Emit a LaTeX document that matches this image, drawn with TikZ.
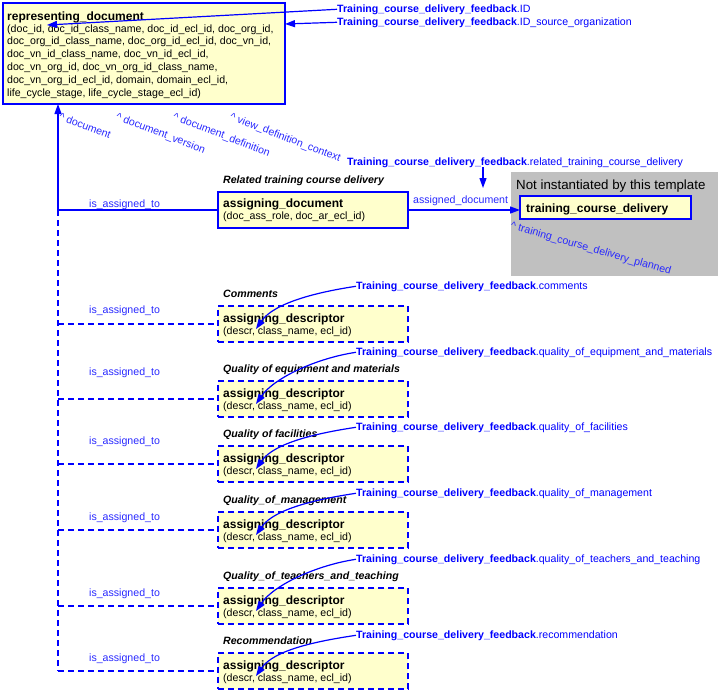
\documentclass[tikz,border=0pt]{standalone}
\usepackage{fontspec}
\setmainfont{Liberation Sans}
\usetikzlibrary{arrows.meta}
\definecolor{bblue}{RGB}{0,0,255}
\definecolor{lblue}{RGB}{40,40,255}
\definecolor{boxfill}{RGB}{255,255,204}
\definecolor{grayfill}{RGB}{192,192,192}
\newcommand\fTtl{\fontsize{12}{14}\selectfont\bfseries}
\newcommand\fAttr{\fontsize{10.6}{12.8}\selectfont}
\newcommand\fLab{\fontsize{10.6}{12.8}\selectfont}
\newcommand\fBig{\fontsize{13.3}{15}\selectfont}
\begin{document}
\begin{tikzpicture}[x=1pt,y=-1pt,
  cls/.style={draw=bblue, line width=1.6pt, fill=boxfill, anchor=north west, inner sep=0pt, outer sep=0pt},
  dcls/.style={cls, dash pattern=on 6pt off 4pt},
  gbox/.style={fill=grayfill, anchor=north west, inner sep=0pt, outer sep=0pt},
  txt/.style={inner sep=0pt, anchor=base west},
  lab/.style={txt, font=\fLab, text=bblue},
  rlab/.style={inner sep=0pt, anchor=north west, font=\fLab, text=lblue},
  conn/.style={draw=bblue, line width=1.2pt},
  dconn/.style={draw=bblue, line width=1.5pt, dash pattern=on 6pt off 4pt},
  arr/.style={-{Triangle[length=10pt,width=7pt]}}
]
\useasboundingbox (0,0) rectangle (720,691);

% representing_document
\node[cls, minimum width=282pt, minimum height=101pt] (rd) at (3,3) {};
\node[txt, font=\fTtl] (rdt) at (7,20) {representing\_document};
\foreach \ln [count=\k] in {
  {(doc\_id, doc\_id\_class\_name, doc\_id\_ecl\_id, doc\_org\_id,},
  {doc\_org\_id\_class\_name, doc\_org\_id\_ecl\_id, doc\_vn\_id,},
  {doc\_vn\_id\_class\_name, doc\_vn\_id\_ecl\_id,},
  {doc\_vn\_org\_id, doc\_vn\_org\_id\_class\_name,},
  {doc\_vn\_org\_id\_ecl\_id, domain, domain\_ecl\_id,},
  {life\_cycle\_stage, life\_cycle\_stage\_ecl\_id)}}
  {\node[txt, font=\fAttr] (rda\k) at (7,{32+12.8*(\k-1)}) {\ln};}

% top labels
\node[lab] (id) at (337,12) {\textbf{Training\_course\_delivery\_feedback}.ID};
\node[lab] (ids) at (337,25) {\textbf{Training\_course\_delivery\_feedback}.ID\_source\_organization};
\coordinate (idt) at (47,25);
\coordinate (idst) at (285,24);
\draw[conn, arr] (id.west) -- (idt);
\draw[conn, arr] (ids.west) -- (idst);

% rotated labels
\node[rlab, rotate=-21] (r1) at (61,112) {\textasciicircum{} document};
\node[rlab, rotate=-21] (r2) at (118,112) {\textasciicircum{} document\_version};
\node[rlab, rotate=-21] (r3) at (175,112) {\textasciicircum{} document\_definition};
\node[rlab, rotate=-21] (r4) at (232,112) {\textasciicircum{} view\_definition\_context};

% not instantiated area
\node[gbox, minimum width=207pt, minimum height=104pt] (ni) at (511,172) {};
\node[txt, font=\fBig] (nit) at (516,189) {Not instantiated by this template};
\node[cls, minimum width=171pt, minimum height=23pt] (tcd) at (520,196) {};
\node[txt, font=\fTtl] (tcdt) at (526,212) {training\_course\_delivery};
\node[rlab, rotate=-16] (r5) at (512,221) {\textasciicircum{} training\_course\_delivery\_planned};

% assigning_document
\node[txt, font={\fLab\bfseries\itshape}] (ads) at (223,183) {Related training course delivery};
\node[cls, minimum width=190pt, minimum height=36pt] (ad) at (218,192) {};
\node[txt, font=\fTtl] (adt) at (223,207) {assigning\_document};
\node[txt, font=\fAttr] (ada) at (223,219) {(doc\_ass\_role, doc\_ar\_ecl\_id)};
\node[lab] (rel) at (347,165) {\textbf{Training\_course\_delivery\_feedback}.related\_training\_course\_delivery};
\coordinate (relt) at (483,188);
\draw[conn, arr] (rel.south -| relt) -- (relt);
\node[txt, font=\fLab, text=lblue] (adl) at (413,203) {assigned\_document};
\draw[conn, arr] (ad.east) -- (ad.east -| tcd.west);

% left spine
\coordinate (j0) at (58,210);
\node[txt, font=\fLab, text=lblue] (ia0) at (89,207) {is\_assigned\_to};
\draw[conn] (j0) -- (ad.west);
\draw[conn, arr] (j0) -- (rd.south -| j0);

% descriptors
\foreach \t/\fy/\iy/\sec/\fbn [count=\i] in {
306/285/309/Comments/comments,
381/351/371/Quality of equipment and materials/quality\_of\_equipment\_and\_materials,
446/426/440/Quality of facilities/quality\_of\_facilities,
512/492/516/Quality\_of\_management/quality\_of\_management,
588/558/592/Quality\_of\_teachers\_and\_teaching/quality\_of\_teachers\_and\_teaching,
653/634/657/Recommendation/recommendation}
{
 \node[dcls, minimum width=190pt, minimum height=36pt] (d\i) at (218,\t) {};
 \node[txt, font=\fTtl] (dt\i) at (223,\t+16) {assigning\_descriptor};
 \node[txt, font=\fAttr] (da\i) at (223,\t+28) {(descr, class\_name, ecl\_id)};
 \node[txt, font={\fLab\bfseries\itshape}] (ds\i) at (223,\t-9) {\sec};
 \node[lab] (fb\i) at (356,\fy+4) {\textbf{Training\_course\_delivery\_feedback}.\fbn};
 \node[txt, font=\fLab, text=lblue] (ia\i) at (89,\iy+4) {is\_assigned\_to};
 \coordinate (tg\i) at (256,\t+23);
 \draw[conn, arr] (fb\i.west) .. controls +(-40,6) and +(18,-26) .. (tg\i);
 \draw[dconn] (d\i.west -| j0) -- (d\i.west);
}
\draw[dconn] (j0) -- (d6.west -| j0);
\end{tikzpicture}
\end{document}
